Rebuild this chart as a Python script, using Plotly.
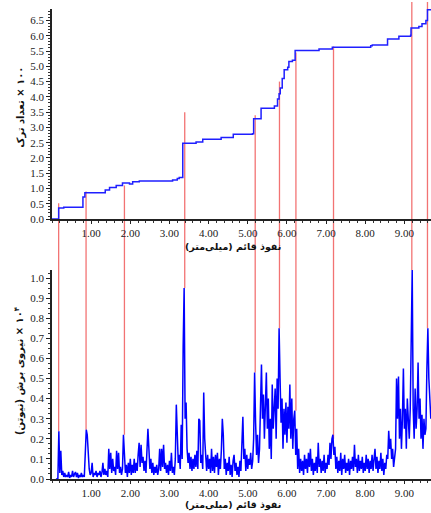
import plotly.graph_objects as go

# ---------------- data ----------------
# Top panel: cumulative crack count (x100) vs vertical penetration (mm)
top_disp = [0.00, 0.17, 0.30, 0.79, 0.84, 1.36, 1.47, 1.64, 1.80, 1.98, 2.06, 2.23, 3.08, 3.20,
            3.25, 3.34, 3.68, 3.85, 4.32, 4.63, 5.12, 5.15, 5.34, 5.68, 5.76, 5.80, 5.83, 5.88,
            5.93, 6.02, 6.05, 6.14, 6.21, 6.82, 7.16, 8.14, 8.18, 8.57, 8.86, 9.16, 9.17, 9.37,
            9.45, 9.55, 9.59, 9.68]
top_count = [0.00, 0.36, 0.39, 0.72, 0.86, 0.95, 1.03, 1.10, 1.18, 1.15, 1.22, 1.25, 1.28, 1.33,
             1.36, 2.48, 2.52, 2.61, 2.67, 2.78, 2.79, 3.28, 3.63, 3.70, 3.93, 4.10, 4.29, 4.60,
             4.89, 4.97, 5.16, 5.20, 5.52, 5.57, 5.62, 5.67, 5.70, 5.89, 5.98, 6.02, 6.25, 6.30,
             6.39, 6.50, 6.85, 6.85]

# Bottom panel: shear force (x10^4 N), sampled every 0.025 mm, one block per mm
force_step = 0.025
force_block_start = [0.1, 1.1, 2.1, 3.1, 4.1, 5.1, 6.1, 7.1, 8.1, 9.1]
force_b0 = [0, 0, 0, 0.237, 0.03, 0.14, 0.02, 0.04, 0.01, 0.03, 0.01, 0.02, 0.01, 0.035, 0.005, 0.02,
            0.01, 0.04, 0.01, 0.025, 0.035, 0.01, 0.03, 0.005, 0.02, 0.01, 0.03, 0.01, 0.02, 0.01,
            0.19, 0.245, 0.22, 0.12, 0.05, 0.02, 0.03, 0.08, 0.01, 0.03]
force_b1 = [0.02, 0.04, 0.01, 0.03, 0.02, 0.04, 0.01, 0.03, 0.08, 0.02, 0.05, 0.02, 0.04, 0.01, 0.15,
            0.05, 0.13, 0.03, 0.10, 0.04, 0.06, 0.02, 0.14, 0.05, 0.13, 0.03, 0.06, 0.02, 0.05, 0.22,
            0.12, 0.03, 0.07, 0.01, 0.08, 0.03, 0.10, 0.02, 0.07, 0.03]
force_b2 = [0.10, 0.03, 0.08, 0.04, 0.12, 0.18, 0.06, 0.17, 0.08, 0.11, 0.04, 0.09, 0.03, 0.12, 0.25,
            0.15, 0.05, 0.10, 0.03, 0.08, 0.02, 0.06, 0.03, 0.07, 0.02, 0.05, 0.15, 0.04, 0.15, 0.06,
            0.17, 0.05, 0.08, 0.03, 0.07, 0.02, 0.09, 0.04, 0.13, 0.03]
force_b3 = [0.06, 0.02, 0.10, 0.37, 0.15, 0.08, 0.12, 0.05, 0.27, 0.10, 0.66, 0.95, 0.30, 0.38, 0.15,
            0.08, 0.13, 0.05, 0.11, 0.04, 0.10, 0.05, 0.12, 0.06, 0.14, 0.05, 0.30, 0.29, 0.08, 0.12,
            0.05, 0.43, 0.20, 0.10, 0.04, 0.12, 0.05, 0.10, 0.03, 0.15]
force_b4 = [0.04, 0.11, 0.03, 0.12, 0.06, 0.13, 0.02, 0.10, 0.05, 0.14, 0.30, 0.22, 0.05, 0.10, 0.02,
            0.08, 0.04, 0.11, 0.02, 0.07, 0.01, 0.09, 0.12, 0.04, 0.08, 0.02, 0.06, 0.01, 0.09, 0.04,
            0.20, 0.31, 0.10, 0.15, 0.04, 0.12, 0.05, 0.10, 0.07, 0.13]
force_b5 = [0.05, 0.09, 0.20, 0.53, 0.28, 0.12, 0.22, 0.08, 0.15, 0.35, 0.57, 0.30, 0.42, 0.20, 0.35,
            0.53, 0.25, 0.40, 0.15, 0.30, 0.10, 0.47, 0.25, 0.38, 0.45, 0.20, 0.50, 0.35, 0.75, 0.50,
            0.28, 0.40, 0.15, 0.35, 0.22, 0.38, 0.18, 0.36, 0.25, 0.47]
force_b6 = [0.20, 0.40, 0.15, 0.30, 0.34, 0.12, 0.25, 0.05, 0.15, 0.03, 0.10, 0.04, 0.09, 0.02, 0.12,
            0.05, 0.10, 0.03, 0.13, 0.06, 0.15, 0.04, 0.10, 0.02, 0.08, 0.04, 0.11, 0.03, 0.18, 0.06,
            0.10, 0.03, 0.09, 0.04, 0.12, 0.03, 0.08, 0.05, 0.12, 0.07]
force_b7 = [0.18, 0.10, 0.20, 0.22, 0.12, 0.16, 0.05, 0.11, 0.03, 0.09, 0.04, 0.13, 0.02, 0.10, 0.05,
            0.12, 0.03, 0.08, 0.04, 0.10, 0.02, 0.09, 0.05, 0.11, 0.04, 0.17, 0.06, 0.10, 0.03, 0.12,
            0.04, 0.09, 0.05, 0.11, 0.03, 0.08, 0.04, 0.12, 0.05, 0.10]
force_b8 = [0.03, 0.09, 0.05, 0.12, 0.04, 0.10, 0.15, 0.05, 0.11, 0.03, 0.09, 0.05, 0.13, 0.04, 0.10,
            0.02, 0.08, 0.05, 0.12, 0.10, 0.24, 0.15, 0.20, 0.10, 0.15, 0.06, 0.12, 0.15, 0.50, 0.30,
            0.51, 0.20, 0.35, 0.15, 0.30, 0.55, 0.25, 0.35, 0.15, 0.40]
force_b9 = [0.30, 0.20, 0.35, 0.65, 1.04, 0.35, 0.20, 0.45, 0.25, 0.35, 0.58, 0.30, 0.40, 0.20, 0.32,
            0.15, 0.30, 0.22, 0.25, 0.55, 0.75, 0.50, 0.40, 0.30]
force_blocks = [force_b0, force_b1, force_b2, force_b3, force_b4,
                force_b5, force_b6, force_b7, force_b8, force_b9]

# Events (red vertical lines): penetration, count reached in top panel, force peak in bottom panel
event_disp = [0.17, 0.87, 1.85, 3.39, 5.19, 5.81, 6.23, 7.19, 9.19, 9.59]
event_top_count = [0.52, 0.90, 1.10, 3.50, 3.40, 4.50, 5.45, 5.65, 7.10, 7.10]
event_bottom_force = [0.237, 0.245, 0.22, 0.95, 0.53, 0.75, 0.34, 0.20, 1.04, 0.75]

x_tick_vals = [1, 2, 3, 4, 5, 6, 7, 8, 9]

x_title = "\u200fنفوذ قائم (میلی‌متر)\u200f"
top_y_title = "\u200f۱۰۰ × تعداد ترک\u200f"
bot_y_title = "\u200f۱۰<sup>۴</sup> × نیروی برش (نیوتن)\u200f"

# ---------------- layout constants ----------------
x_range = [0, 9.68]
top_yrange = [0, 6.875]
bot_yrange = [0, 1.04]
top_domain = [0.553, 1.0]
bot_domain = [0.0, 0.4447]

force_x, force_y = [], []
for start, blk in zip(force_block_start, force_blocks):
    for j, v in enumerate(blk):
        force_x.append(round(start + force_step * j, 4))
        force_y.append(v)


def to_paper(v, rng, dom):
    return dom[0] + (v - rng[0]) / (rng[1] - rng[0]) * (dom[1] - dom[0])


fig = go.Figure()
fig.add_trace(go.Scatter(x=top_disp, y=top_count, mode="lines",
                         line=dict(color="#1f1fff", width=1.5, shape="hv"),
                         xaxis="x", yaxis="y", showlegend=False))
fig.add_trace(go.Scatter(x=force_x, y=force_y, mode="lines",
                         line=dict(color="#0000ff", width=1.5),
                         xaxis="x2", yaxis="y2", showlegend=False))

shapes = []
for ex, et, eb in zip(event_disp, event_top_count, event_bottom_force):
    shapes.append(dict(type="line", xref="x", yref="paper", x0=ex, x1=ex,
                       y0=to_paper(eb, bot_yrange, bot_domain),
                       y1=to_paper(et, top_yrange, top_domain),
                       line=dict(color="rgba(240,90,90,0.85)", width=1.3), layer="below"))

tickfont = dict(family="Liberation Serif", size=11, color="#222")
xtitlefont = dict(family="DejaVu Sans", size=9.5, color="#111")
ytitlefont = dict(family="DejaVu Sans", size=10, color="#111")
common_x = dict(range=x_range, showline=True, linecolor="#222", linewidth=1.5,
                ticks="outside", ticklen=3, tickwidth=1, tickcolor="#222",
                tickvals=x_tick_vals, tickformat=".2f",
                minor=dict(dtick=0.2, tick0=0, ticks="outside", ticklen=2, tickcolor="#333"),
                showgrid=False, zeroline=False, tickfont=tickfont)
common_y = dict(showline=True, linecolor="#222", linewidth=1.5, ticks="outside",
                ticklen=4, tickwidth=1, tickcolor="#222", tickformat=".1f",
                showgrid=False, zeroline=False, tickfont=tickfont)

annotations = [
    dict(text="<b>" + x_title + "</b>", xref="paper", yref="paper", x=0.4776, y=0.4936,
         xanchor="center", yanchor="middle", showarrow=False, font=xtitlefont),
    dict(text="<b>" + x_title + "</b>", xref="paper", yref="paper", x=0.4776, y=-0.0553,
         xanchor="center", yanchor="middle", showarrow=False, font=xtitlefont),
    dict(text="<b>" + top_y_title + "</b>", xref="paper", yref="paper", x=-0.0805, y=0.791,
         xanchor="center", yanchor="middle", showarrow=False, textangle=-90, font=ytitlefont),
    dict(text="<b>" + bot_y_title + "</b>", xref="paper", yref="paper", x=-0.0844, y=0.2298,
         xanchor="center", yanchor="middle", showarrow=False, textangle=-90, font=ytitlefont),
]

fig.update_layout(
    width=431, height=513,
    margin=dict(l=52, r=0, t=9, b=34),
    paper_bgcolor="white", plot_bgcolor="white",
    shapes=shapes,
    annotations=annotations,
    xaxis=dict(common_x, domain=[0, 1], anchor="y"),
    yaxis=dict(common_y, domain=top_domain, anchor="x", range=top_yrange, dtick=0.5, tick0=0,
               minor=dict(dtick=0.1, ticks="outside", ticklen=2, tickcolor="#333")),
    xaxis2=dict(common_x, domain=[0, 1], anchor="y2"),
    yaxis2=dict(common_y, domain=bot_domain, anchor="x2", range=bot_yrange, dtick=0.1, tick0=0,
                minor=dict(dtick=0.025, ticks="outside", ticklen=2, tickcolor="#333")),
)

fig.write_html("out.html", config={"displayModeBar": False},
               post_script="document.body.style.margin='0px';")
